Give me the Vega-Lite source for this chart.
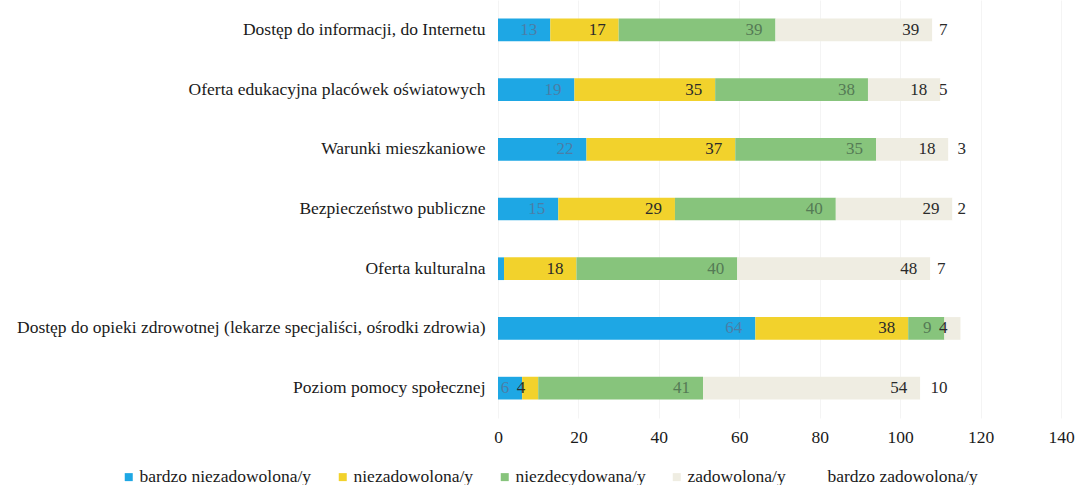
{
  "$schema": "https://vega.github.io/schema/vega-lite/v6.json",
  "autosize": "none",
  "width": 563,
  "height": 418,
  "padding": {"left": 498, "top": 0, "right": 20, "bottom": 67},
  "background": "white",
  "config": {"view": {"stroke": null}, "font": "Liberation Serif"},
  "data": {"values": [
    {"item": "Dostęp do informacji, do Internetu", "cat": "bardzo niezadowolona/y", "k": 1, "value": 13},
    {"item": "Dostęp do informacji, do Internetu", "cat": "niezadowolona/y", "k": 2, "value": 17},
    {"item": "Dostęp do informacji, do Internetu", "cat": "niezdecydowana/y", "k": 3, "value": 39},
    {"item": "Dostęp do informacji, do Internetu", "cat": "zadowolona/y", "k": 4, "value": 39},
    {"item": "Dostęp do informacji, do Internetu", "cat": "bardzo zadowolona/y", "k": 5, "value": 7},
    {"item": "Oferta edukacyjna placówek oświatowych", "cat": "bardzo niezadowolona/y", "k": 1, "value": 19},
    {"item": "Oferta edukacyjna placówek oświatowych", "cat": "niezadowolona/y", "k": 2, "value": 35},
    {"item": "Oferta edukacyjna placówek oświatowych", "cat": "niezdecydowana/y", "k": 3, "value": 38},
    {"item": "Oferta edukacyjna placówek oświatowych", "cat": "zadowolona/y", "k": 4, "value": 18},
    {"item": "Oferta edukacyjna placówek oświatowych", "cat": "bardzo zadowolona/y", "k": 5, "value": 5},
    {"item": "Warunki mieszkaniowe", "cat": "bardzo niezadowolona/y", "k": 1, "value": 22},
    {"item": "Warunki mieszkaniowe", "cat": "niezadowolona/y", "k": 2, "value": 37},
    {"item": "Warunki mieszkaniowe", "cat": "niezdecydowana/y", "k": 3, "value": 35},
    {"item": "Warunki mieszkaniowe", "cat": "zadowolona/y", "k": 4, "value": 18},
    {"item": "Warunki mieszkaniowe", "cat": "bardzo zadowolona/y", "k": 5, "value": 3},
    {"item": "Bezpieczeństwo publiczne", "cat": "bardzo niezadowolona/y", "k": 1, "value": 15},
    {"item": "Bezpieczeństwo publiczne", "cat": "niezadowolona/y", "k": 2, "value": 29},
    {"item": "Bezpieczeństwo publiczne", "cat": "niezdecydowana/y", "k": 3, "value": 40},
    {"item": "Bezpieczeństwo publiczne", "cat": "zadowolona/y", "k": 4, "value": 29},
    {"item": "Bezpieczeństwo publiczne", "cat": "bardzo zadowolona/y", "k": 5, "value": 2},
    {"item": "Oferta kulturalna", "cat": "bardzo niezadowolona/y", "k": 1, "value": 1.5},
    {"item": "Oferta kulturalna", "cat": "niezadowolona/y", "k": 2, "value": 18},
    {"item": "Oferta kulturalna", "cat": "niezdecydowana/y", "k": 3, "value": 40},
    {"item": "Oferta kulturalna", "cat": "zadowolona/y", "k": 4, "value": 48},
    {"item": "Oferta kulturalna", "cat": "bardzo zadowolona/y", "k": 5, "value": 7},
    {"item": "Dostęp do opieki zdrowotnej (lekarze specjaliści, ośrodki zdrowia)", "cat": "bardzo niezadowolona/y", "k": 1, "value": 64},
    {"item": "Dostęp do opieki zdrowotnej (lekarze specjaliści, ośrodki zdrowia)", "cat": "niezadowolona/y", "k": 2, "value": 38},
    {"item": "Dostęp do opieki zdrowotnej (lekarze specjaliści, ośrodki zdrowia)", "cat": "niezdecydowana/y", "k": 3, "value": 9},
    {"item": "Dostęp do opieki zdrowotnej (lekarze specjaliści, ośrodki zdrowia)", "cat": "zadowolona/y", "k": 4, "value": 4},
    {"item": "Poziom pomocy społecznej", "cat": "bardzo niezadowolona/y", "k": 1, "value": 6},
    {"item": "Poziom pomocy społecznej", "cat": "niezadowolona/y", "k": 2, "value": 4},
    {"item": "Poziom pomocy społecznej", "cat": "niezdecydowana/y", "k": 3, "value": 41},
    {"item": "Poziom pomocy społecznej", "cat": "zadowolona/y", "k": 4, "value": 54},
    {"item": "Poziom pomocy społecznej", "cat": "bardzo zadowolona/y", "k": 5, "value": 10}
  ]},
  "transform": [
    {"stack": "value", "groupby": ["item"], "sort": [{"field": "k", "order": "ascending"}], "as": ["x0", "x1"]}
  ],
  "encoding": {
    "y": {
      "field": "item", "type": "nominal", "sort": null, "title": null,
      "scale": {"paddingInner": 0.62, "paddingOuter": 0.31},
      "axis": {"domain": false, "ticks": false, "labelPadding": 13, "labelFont": "Liberation Serif", "labelFontSize": 17.5, "labelColor": "#1a1a1a", "labelLimit": 600}
    }
  },
  "layer": [
    {
      "mark": {"type": "bar"},
      "encoding": {
        "x": {
          "field": "x0", "type": "quantitative", "title": null,
          "scale": {"domain": [0, 140], "nice": false},
          "axis": {"values": [0, 20, 40, 60, 80, 100, 120, 140], "domain": false, "ticks": false, "grid": true, "gridColor": "#f4f4f4", "labelPadding": 10, "labelFont": "Liberation Serif", "labelFontSize": 17.5, "labelColor": "#1a1a1a", "labelFlush": false}
        },
        "x2": {"field": "x1"},
        "color": {
          "field": "cat", "type": "nominal", "title": null,
          "scale": {
            "domain": ["bardzo niezadowolona/y", "niezadowolona/y", "niezdecydowana/y", "zadowolona/y", "bardzo zadowolona/y"],
            "range": ["#1ea7e4", "#f2d22c", "#87c47c", "#efede2", "#ffffff"]
          },
          "legend": {
            "orient": "none", "legendX": -378, "legendY": 468, "direction": "horizontal",
            "symbolType": "square", "symbolSize": 64, "symbolStrokeWidth": 0,
            "labelFont": "Liberation Serif", "labelFontSize": 17.5, "labelColor": "#1a1a1a",
            "labelOffset": 2, "columnPadding": 22, "labelLimit": 300
          }
        }
      }
    },
    {
      "transform": [{"filter": "datum.value >= 4 || (datum.cat === 'bardzo zadowolona/y' && datum.value > 3)"}],
      "mark": {"type": "text", "align": "right", "baseline": "middle", "dx": -13, "font": "Liberation Serif", "fontSize": 17},
      "encoding": {
        "x": {"field": "x1", "type": "quantitative"},
        "text": {"field": "value", "type": "quantitative"},
        "color": {
          "condition": [
            {"test": "datum.cat === 'bardzo niezadowolona/y'", "value": "#4a7ea8"},
            {"test": "datum.cat === 'niezdecydowana/y'", "value": "#557a55"}
          ],
          "value": "#2a2a2a"
        }
      }
    },
    {
      "transform": [{"filter": "datum.cat === 'bardzo zadowolona/y' && datum.value <= 3"}],
      "mark": {"type": "text", "align": "left", "baseline": "middle", "dx": -3, "font": "Liberation Serif", "fontSize": 17},
      "encoding": {
        "x": {"field": "x1", "type": "quantitative"},
        "text": {"field": "value", "type": "quantitative"},
        "color": {"value": "#2a2a2a"}
      }
    }
  ]
}
